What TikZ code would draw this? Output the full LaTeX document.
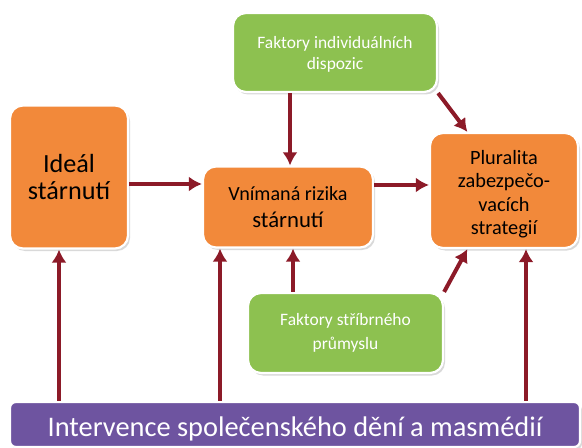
\documentclass[tikz,border=0pt]{standalone}
\usepackage{fontspec}
\setmainfont{Carlito}
\usepackage{xcolor}
\usepackage{tikz}
\usetikzlibrary{arrows.meta,shadows}

\definecolor{boxOrange}{RGB}{242,137,58}
\definecolor{boxGreen}{RGB}{141,193,80}
\definecolor{boxPurple}{RGB}{110,84,160}
\definecolor{arrowRed}{RGB}{140,26,40}

\begin{document}
\begin{tikzpicture}[x=1bp, y=-1bp, >={Latex[length=13bp,width=15bp]}]
        \tikzstyle{box} = [draw=white, line width=2.2bp, rectangle, rounded corners=13bp,
            align=center, inner sep=2bp,
            drop shadow={opacity=0.3, shadow xshift=2bp, shadow yshift=-2.5bp}]
        \tikzstyle{orangeBox} = [box, fill=boxOrange, text=black]
        \tikzstyle{greenBox} = [box, fill=boxGreen, text=white,
            font=\fontsize{17.5}{24}\selectfont]
        \tikzstyle{purpleBox} = [box, fill=boxPurple, text=white, rounded corners=6bp,
            font=\fontsize{28.5}{30}\selectfont]
        \tikzstyle{stateEdgePortion} = [arrowRed, line width=4bp];
        \tikzstyle{stateEdge} = [stateEdgePortion,->];
        \useasboundingbox (0,0) rectangle (582,448);

        \node[orangeBox, minimum width=118bp, minimum height=143bp,
            font=\fontsize{26.3}{28}\selectfont] (nodeIdeal) at (69,177)
            {Ideál\\stárnutí};
        \node[orangeBox, minimum width=170bp, minimum height=81bp,
            font=\fontsize{20.2}{27}\selectfont] (nodeRizika) at (288,207)
            {Vnímaná rizika\\{\fontsize{22.8}{27}\selectfont stárnutí}};
        \node[orangeBox, minimum width=148bp, minimum height=115bp,
            font=\fontsize{20.4}{23.5}\selectfont] (nodePluralita) at (504,190.5)
            {\mbox{}\\[-2bp]Pluralita\\zabezpečo-\\vacích\\strategií};
        \node[greenBox, minimum width=204bp, minimum height=79bp] (nodeDispozice) at (335,52.5)
            {\raisebox{-3bp}[13bp][2bp]{Faktory individuálních}\\dispozic};
        \node[greenBox, minimum width=195bp, minimum height=80bp] (nodePrumysl) at (345.5,333)
            {Faktory stříbrného\\průmyslu};
        \node[purpleBox, minimum width=570bp, minimum height=45bp] (nodeIntervence) at (295,424.5)
            {\raisebox{-5bp}[16bp][2bp]{Intervence společenského dění a masmédií}};

        \draw (nodeIdeal.east |- 0,184)
        edge[stateEdge] (nodeRizika.west |- 0,184);
        \draw (nodeRizika.east |- 0,185)
        edge[stateEdge] (nodePluralita.west |- 0,185);
        \draw (nodeDispozice.south -| 290,0)
        edge[stateEdge] (nodeRizika.north -| 290,0);
        \draw (nodeDispozice.south east)
        edge[stateEdge] (nodePluralita.122);
        \draw (nodePrumysl.north -| 293,0)
        edge[stateEdge] (nodeRizika.south -| 293,0);
        \draw (nodePrumysl.north east)
        edge[stateEdge] (nodePluralita.238);

        \draw (nodeIntervence.north -| 59,0)
        edge[stateEdge] (nodeIdeal.south -| 59,0);
        \draw (nodeIntervence.north -| 220,0)
        edge[stateEdge] (nodeRizika.south -| 220,0);
        \draw (nodeIntervence.north -| 526,0)
        edge[stateEdge] (nodePluralita.south -| 526,0);
    \end{tikzpicture}
\end{document}
